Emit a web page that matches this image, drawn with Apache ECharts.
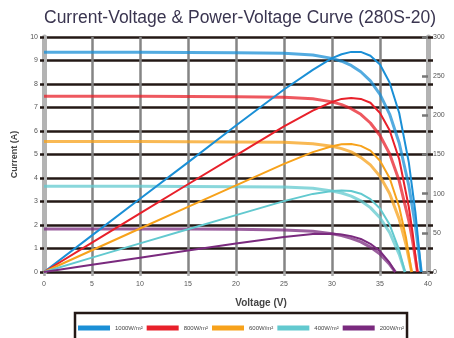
<!DOCTYPE html>
<html>
<head>
<meta charset="utf-8">
<script src="https://cdn.jsdelivr.net/npm/echarts@6/dist/echarts.min.js"></script>
<style>html,body{margin:0;padding:0;background:#fff;}#c{width:454px;height:338px;}</style>
</head>
<body>
<div id="c"></div>
<script>
const titleText = 'Current-Voltage & Power-Voltage Curve (280S-20)';
const irradiance = ['1000W/m²', '800W/m²', '600W/m²', '400W/m²', '200W/m²'];
const voltageTicks = [0, 5, 10, 15, 20, 25, 30, 35, 40];

const voltageBlue = [0, 5, 10, 15, 20, 25, 28, 30, 31, 32, 33, 34, 35, 36, 37, 38, 38.7, 39.3];
const currentBlue = [9.35, 9.35, 9.35, 9.34, 9.33, 9.31, 9.23, 9.09, 8.97, 8.79, 8.52, 8.13, 7.56, 6.72, 5.49, 3.68, 1.93, 0];
const powerBlue = [0, 46.8, 93.5, 140, 187, 233, 258, 273, 278, 281, 281, 276, 265, 242, 203, 140, 75, 0];

const voltageRed = [0, 5, 10, 15, 20, 25, 28, 30, 31, 32, 33, 34, 35, 36, 37, 38, 38.4, 38.9];
const currentRed = [7.48, 7.48, 7.48, 7.47, 7.46, 7.44, 7.37, 7.24, 7.12, 6.95, 6.71, 6.34, 5.81, 5.03, 3.88, 2.19, 1.31, 0];
const powerRed = [0, 37.4, 74.8, 112, 149, 186, 206, 217, 221, 222, 221, 216, 203, 181, 144, 83, 50, 0];

const voltageOrange = [0, 5, 10, 15, 20, 25, 28, 30, 31, 32, 33, 34, 35, 36, 37, 37.7, 38.3];
const currentOrange = [5.55, 5.55, 5.55, 5.54, 5.53, 5.52, 5.46, 5.35, 5.25, 5.11, 4.88, 4.56, 4.07, 3.34, 2.25, 1.18, 0];
const powerOrange = [0, 27.8, 55.5, 83.1, 110.6, 138, 153, 160.5, 163, 163.5, 161, 155, 142, 120, 83, 44.5, 0];

const voltageCyan = [0, 5, 10, 15, 20, 25, 28, 30, 31, 32, 33, 34, 35, 36, 37, 37.6];
const currentCyan = [3.65, 3.65, 3.65, 3.64, 3.63, 3.62, 3.56, 3.45, 3.36, 3.23, 3.03, 2.74, 2.31, 1.68, 0.75, 0];
const powerCyan = [0, 18.3, 36.5, 54.6, 72.6, 90.5, 99.7, 103.5, 104, 103.4, 100, 93, 81, 60.5, 27.8, 0];

const voltagePurple = [0, 5, 10, 15, 20, 25, 28, 30, 31, 32, 33, 34, 35, 36, 36.6];
const currentPurple = [1.83, 1.83, 1.83, 1.83, 1.82, 1.79, 1.73, 1.63, 1.55, 1.43, 1.28, 1.06, 0.76, 0.33, 0];
const powerPurple = [0, 9.2, 18.3, 27.5, 36.4, 44.8, 48.4, 48.9, 48, 45.8, 42.2, 36, 26.6, 11.9, 0];

const colors = ['#1a8fd6', '#e8202a', '#f7a21b', '#62c9cf', '#7a2a7e'];

const curves = [
  [voltageBlue, currentBlue, powerBlue],
  [voltageRed, currentRed, powerRed],
  [voltageOrange, currentOrange, powerOrange],
  [voltageCyan, currentCyan, powerCyan],
  [voltagePurple, currentPurple, powerPurple]
];

const pair = (xs, ys) => xs.map((x, i) => [x, ys[i]]);

const series = [];
curves.forEach((c, k) => {
  series.push({
    name: irradiance[k], type: 'line', yAxisIndex: 0, showSymbol: false, symbol: 'none',
    smooth: false,
    lineStyle: { color: colors[k], width: 3, opacity: 0.75, join: 'round' },
    itemStyle: { color: colors[k] },
    data: pair(c[0], c[1]), z: 3
  });
  series.push({
    name: irradiance[k], type: 'line', yAxisIndex: 1, showSymbol: false, symbol: 'none',
    smooth: false,
    lineStyle: { color: colors[k], width: 2, join: 'round' },
    itemStyle: { color: colors[k] },
    data: pair(c[0], c[2]), z: 4
  });
});

const chart = echarts.init(document.getElementById('c'), null, { renderer: 'canvas' });
chart.setOption({
  animation: false,
  backgroundColor: '#fff',
  title: {
    text: titleText, left: 235, top: 4, textAlign: 'center',
    textStyle: { fontFamily: 'Liberation Sans', fontSize: 17.5, fontWeight: 'normal', color: '#3a3550' }
  },
  grid: { left: 44, right: 26, top: 37, bottom: 66, containLabel: false },
  legend: {
    left: 75, top: 313, orient: 'horizontal',
    icon: 'rect', itemWidth: 32, itemHeight: 5, itemGap: 4,
    padding: [12, 3, 20, 3],
    borderColor: '#231815', borderWidth: 2.5,
    textStyle: { fontSize: 6, width: 30, color: '#444', fontFamily: 'Liberation Sans' },
    data: irradiance
  },
  xAxis: {
    type: 'value', min: 0, max: 40, interval: 5,
    name: 'Voltage (V)', nameLocation: 'middle', nameGap: 26,
    nameTextStyle: { fontSize: 10, fontWeight: 'bold', color: '#444', fontFamily: 'Liberation Sans', padding: [0, 0, 0, 50] },
    axisLine: { show: false },
    axisTick: { show: true, length: 4, lineStyle: { color: '#aaa', width: 2.5 } },
    axisLabel: { fontSize: 7, color: '#555', margin: 9, fontFamily: 'Liberation Sans' },
    splitLine: { show: true, showMinLine: false, showMaxLine: false, lineStyle: { color: '#858585', width: 2.5 } }
  },
  yAxis: [
    {
      type: 'value', min: 0, max: 10, interval: 1, position: 'left',
      name: 'Current (A)', nameLocation: 'middle', nameGap: 23, nameRotate: 90,
      nameTextStyle: { fontSize: 9, fontWeight: 'bold', color: '#444', fontFamily: 'Liberation Sans' },
      axisLine: { show: true, lineStyle: { color: '#b3b3b3', width: 5 } },
      axisTick: { show: true, length: 4, lineStyle: { color: '#231815', width: 2.5 } },
      axisLabel: { fontSize: 7, color: '#555', margin: 6, fontFamily: 'Liberation Sans' },
      splitLine: { show: true, lineStyle: { color: '#231815', width: 2.5 } }
    },
    {
      type: 'value', min: 0, max: 300, interval: 50, position: 'right',
      axisLine: { show: true, lineStyle: { color: '#b3b3b3', width: 5 } },
      axisTick: { show: true, inside: true, length: 6, lineStyle: { color: '#777', width: 2.5 } },
      axisLabel: { fontSize: 7, color: '#555', margin: 5, fontFamily: 'Liberation Sans' },
      splitLine: { show: false }
    },
    {
      type: 'value', min: 0, max: 10, interval: 1, position: 'right',
      axisLine: { show: false },
      axisTick: { show: true, length: 5, lineStyle: { color: '#231815', width: 2.5 } },
      axisLabel: { show: false },
      splitLine: { show: false }
    }
  ],
  series: series
});
</script>
</body>
</html>
